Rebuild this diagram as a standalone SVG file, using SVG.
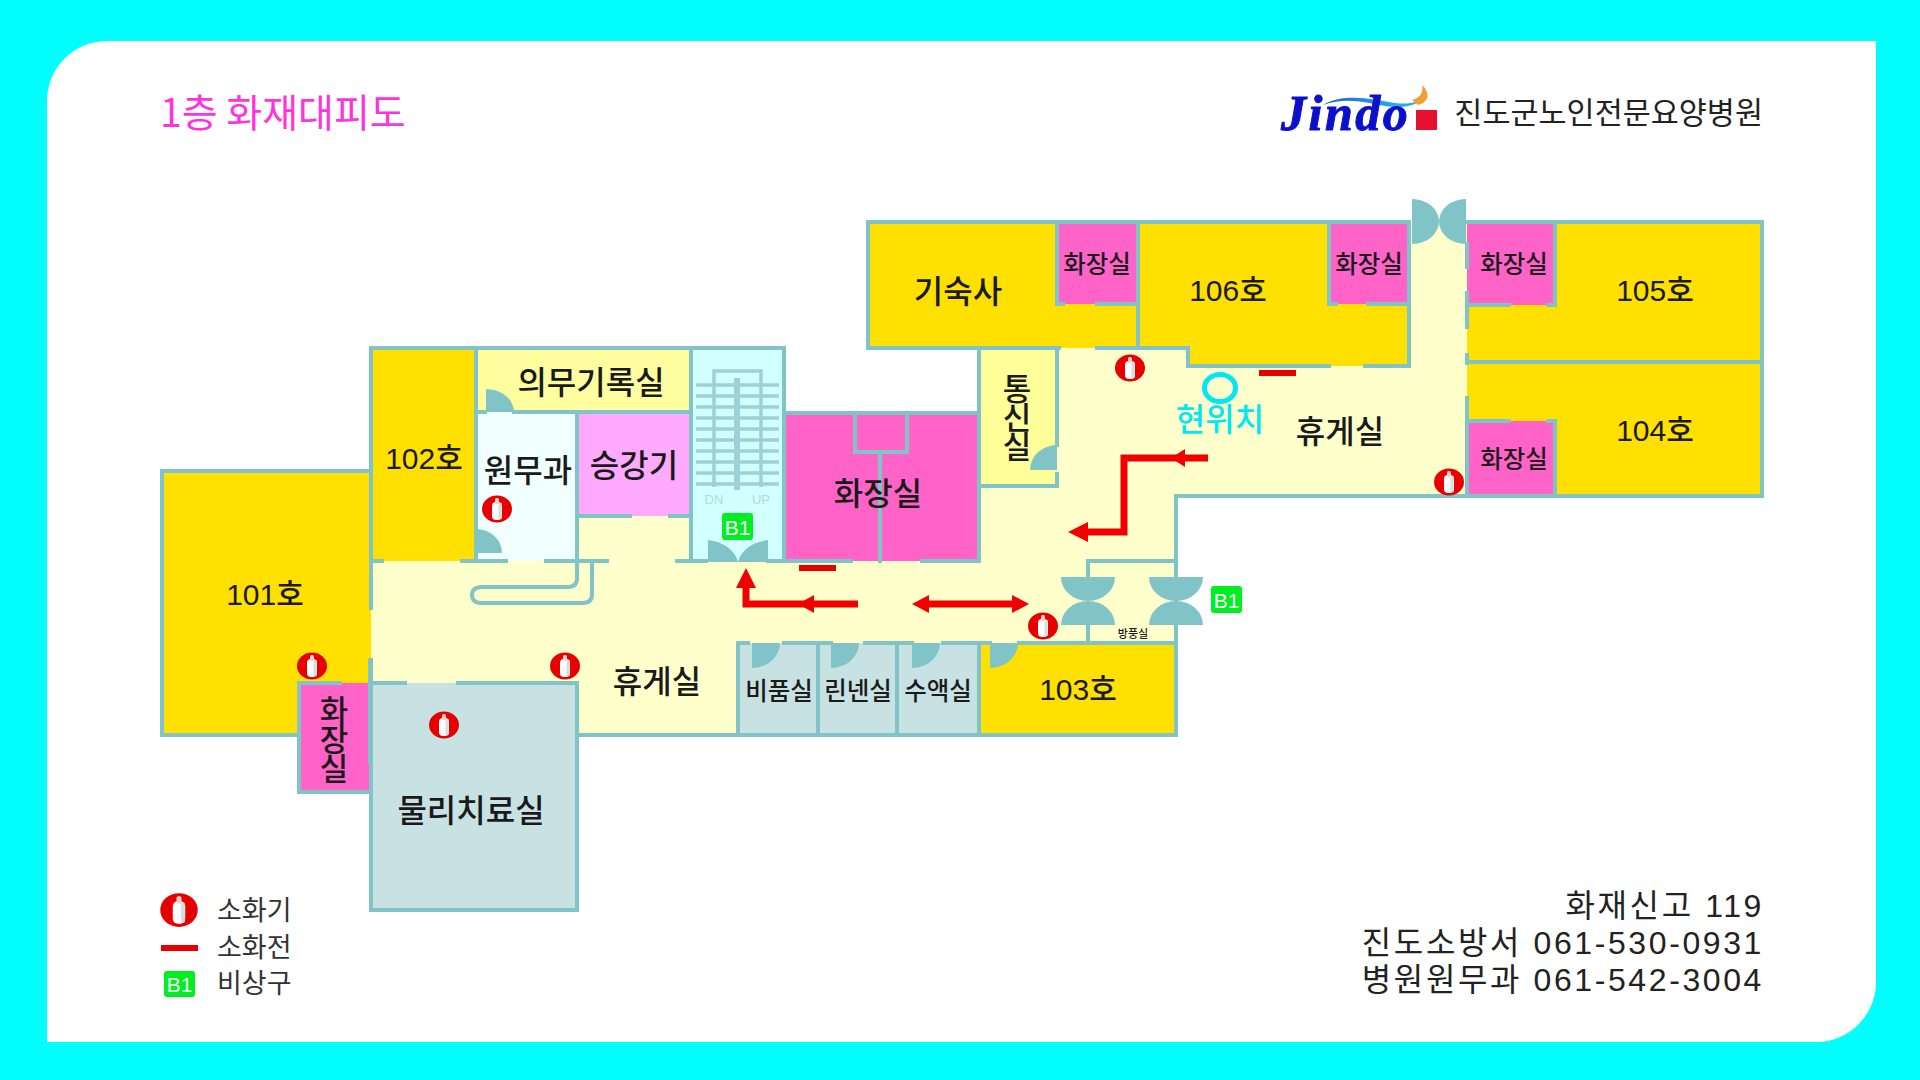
<svg xmlns="http://www.w3.org/2000/svg" width="1920" height="1080" viewBox="0 0 1920 1080">
<style>
text{font-family:"Noto Sans CJK KR","Noto Sans",sans-serif;fill:#1a1a1a;dominant-baseline:central;text-anchor:middle;font-weight:500}
.r{font-size:32px}.n{font-size:30px;font-family:"Liberation Sans","Noto Sans CJK KR",sans-serif}
.s{font-size:24.5px}.m{font-size:24.5px}
.v{font-size:31px;writing-mode:vertical-rl;text-orientation:upright;letter-spacing:-2px}
.i{font-size:32px;letter-spacing:2.6px;text-anchor:end;font-weight:400;fill:#222;font-family:"Liberation Sans","Noto Sans CJK KR",sans-serif}
.l{font-size:27px;text-anchor:start;font-weight:400;fill:#333}
.w{fill:none;stroke:#80c4c8;stroke-width:4;stroke-linecap:square}
.d{fill:#80c4c8}
.yel{fill:#ffe000}.pnk{fill:#ff63c8}.cor{fill:#ffffcc}.gry{fill:#c8e2e4}
.b{fill:#00ee22}.bt{fill:#fff;font-family:"Liberation Sans",sans-serif;font-size:21px;font-weight:400}
.a{fill:none;stroke:#f00000;stroke-width:7}.ah{fill:#f00000}
.h{fill:#e80000}
</style>
<defs>
<g id="ext"><ellipse rx="15" ry="13.5" fill="#e60000"/><rect x="-5" y="-7" width="10" height="18" rx="4" fill="#fff"/><rect x="-2" y="-11" width="4" height="6" rx="1.5" fill="#f3cccc"/><rect x="1.5" y="-6" width="3" height="16" fill="#dcdcdc"/></g>
<g id="ddoor"><path class="d" d="M-27 -24 H27 A27 24 0 0 1 0 0 A27 24 0 0 1 -27 -24Z"/><path class="d" d="M-27 24 H27 A27 24 0 0 0 0 0 A27 24 0 0 0 -27 24Z"/></g>
<g id="qdoor"><path class="d" d="M0 0 H28 A28 25 0 0 1 0 25Z"/></g>
<linearGradient id="sw" x1="0" x2="1" y1="0" y2="0"><stop offset="0" stop-color="#1c5fd8"/><stop offset="0.7" stop-color="#28a8f0"/></linearGradient>
</defs>
<rect width="1920" height="1080" fill="#00ffff"/>
<path d="M107 41 H1876 V982 A60 60 0 0 1 1816 1042 H47 V101 A60 60 0 0 1 107 41Z" fill="#fff"/>

<g id="title"><text x="160" y="109.5" style="font-size:39px;text-anchor:start;fill:#ff33dd;font-weight:400">1층 화재대피도</text></g>
<g id="logo">
<path d="M1323 105 C1345 92 1375 100 1395 103 C1410 105 1420 102 1424 96 C1420 106 1400 109 1385 106 C1365 102 1345 97 1323 105Z" fill="url(#sw)"/>
<path d="M1412 100 C1420 98 1424 92 1422 85 C1430 92 1430 102 1418 105Z" fill="#f0a030"/>
<text x="1281" y="130" style="font-family:'Liberation Serif',serif;font-style:italic;font-weight:700;font-size:50px;letter-spacing:2.5px;fill:#0a10cc;stroke:#0a10cc;stroke-width:1;text-anchor:start;dominant-baseline:alphabetic">Jindo</text>
<rect x="1416" y="110" width="21" height="20" fill="#e81030"/>
<text x="1763" y="110.5" style="font-size:30.5px;text-anchor:end;font-weight:400;fill:#222">진도군노인전문요양병원</text>
</g>

<g id="floor-fills">
<rect class="cor" x="371" y="561" width="805" height="82"/>
<rect class="cor" x="371" y="640" width="367" height="43"/>
<rect class="cor" x="577" y="640" width="161" height="95"/>
<rect class="cor" x="577" y="516" width="114" height="46"/>
<rect class="cor" x="979" y="486" width="197" height="76"/>
<rect class="cor" x="1057" y="348" width="410" height="148"/>
<rect class="cor" x="1409" y="222" width="58" height="140"/>
<rect class="yel" x="162" y="471" width="209" height="264"/>
<rect class="yel" x="371" y="348" width="105" height="213"/>
<rect fill="#ffffa0" x="476" y="348" width="215" height="64"/>
<rect fill="#f2ffff" x="476" y="412" width="101" height="149"/>
<rect fill="#ffaaff" x="577" y="412" width="114" height="104"/>
<rect fill="#d2ffff" x="691" y="348" width="93" height="213"/>
<rect class="pnk" x="784" y="413" width="195" height="148"/>
<rect fill="#ffff99" x="979" y="348" width="78" height="138"/>
<rect class="yel" x="868" y="222" width="270" height="126"/>
<rect class="yel" x="1138" y="222" width="271" height="126"/>
<rect class="yel" x="1188" y="340" width="221" height="26"/>
<rect class="pnk" x="1057" y="222" width="81" height="82"/>
<rect class="pnk" x="1329" y="222" width="80" height="82"/>
<rect class="yel" x="1467" y="222" width="295" height="274"/>
<rect class="pnk" x="1467" y="222" width="88" height="83"/>
<rect class="pnk" x="1467" y="421" width="88" height="75"/>
<rect class="pnk" x="299" y="683" width="72" height="109"/>
<rect class="gry" x="371" y="683" width="206" height="227"/>
<rect class="gry" x="738" y="643" width="241" height="92"/>
<rect class="yel" x="979" y="643" width="197" height="92"/>
</g>

<g id="walls">
<path class="w" d="M162 735 V471 H371 M162 735 H299 M299 683 V792 H371 M299 683 H340 M371 683 H405 M458 683 H577 V910 H371 V683"/>
<path class="w" d="M371 660 V683 M371 608 V348 H784 V561 M370 661 V762 M476 348 V561 M476 412 H485 M514 412 H691 M691 348 V561 M577 412 V561"/>
<path class="w" d="M577 516 H630 M670 516 H691"/>
<path class="w" d="M371 561 H382 M462 561 H506 M546 561 H607 M677 561 H706 M768 561 H851 M922 561 H979 M371 561 V608"/>
<path class="w" d="M577 561 V578 Q577 587 568 587 H482 Q472 587 472 595 Q472 603 482 603 H583 Q592 603 592 594 V561"/>
<path class="w" d="M784 413 H979 M880 452 V561 M855 413 V452 H907 V413 M979 348 V561 M979 486 H1057 M1057 348 V445 M1057 474 V486"/>
<path class="w" d="M868 348 V222 H1409 V366 M868 348 H1059 M1097 348 H1188 V366 H1329 M1365 366 H1409 M1138 222 V348 M1057 222 V304 H1063 M1097 304 H1138 M1329 222 V304 H1336 M1368 304 H1409"/>
<path class="w" d="M1467 222 H1762 V496 H1176 V643 M1467 362 H1762 M1555 222 V305 H1548 M1509 305 H1467 M1467 421 H1509 M1548 421 H1555 V496"/>
<path class="w" d="M1467 244 V267 M1467 293 V327 M1467 355 V363 M1467 398 V496"/>
<path class="w" d="M1088 578 V561 H1176 M1088 626 V643"/>
<path class="w" d="M738 735 H1176 V643 M738 643 V735 M818 643 V735 M897 643 V735 M979 643 V735"/>
<path class="w" d="M738 643 H748 M784 643 H831 M865 643 H912 M943 643 H990 M1019 643 H1176 M577 735 H738"/>
</g>

<g id="doors">
<path class="d" d="M486 412 V389 A28 23 0 0 1 514 412Z"/>
<path class="d" d="M476 553 V529 A26 24 0 0 1 502 553Z"/>
<path class="d" d="M1057 470 V445 A27 25 0 0 0 1030 470Z"/>
<use href="#qdoor" x="752" y="643"/><use href="#qdoor" x="831" y="643"/><use href="#qdoor" x="912" y="643"/><use href="#qdoor" x="990" y="643"/>
<path class="d" d="M1412 199 A27 22.5 0 0 1 1412 244Z"/>
<path class="d" d="M1466 199 A27 22.5 0 0 0 1466 244Z"/>
<use href="#ddoor" x="1088" y="601"/><use href="#ddoor" x="1176" y="601"/>
<path class="d" d="M708 562 V540 C722 542 734 548 738 562Z"/>
<path class="d" d="M768 562 V540 C754 542 742 548 738 562Z"/>
</g>

<g id="stairs">
<path d="M714 487 V371 H761 V487 M696 385 H779 M696 396 H779 M696 407 H779 M696 418 H779 M696 429 H779 M696 440 H779 M696 451 H779 M696 462 H779 M696 473 H779 M696 484 H779" fill="none" stroke="#9ed0d6" stroke-width="3.5"/>
<path d="M737 378 V490" stroke="#9ed0d6" stroke-width="6" fill="none"/>
<text x="714" y="499" style="font-family:'Liberation Sans',sans-serif;font-size:13px;fill:#b4d8de;font-weight:400">DN</text>
<text x="761" y="499" style="font-family:'Liberation Sans',sans-serif;font-size:13px;fill:#b4d8de;font-weight:400">UP</text>
</g>

<g id="labels">
<text class="n" x="265" y="594">101호</text>
<text class="n" x="424" y="458">102호</text>
<text class="n" x="1078" y="689">103호</text>
<text class="n" x="1655" y="430">104호</text>
<text class="n" x="1655" y="290">105호</text>
<text class="n" x="1228" y="290">106호</text>
<text class="r" x="591" y="379.5">의무기록실</text>
<text class="r" x="528" y="467.5">원무과</text>
<text class="r" x="634" y="462.5">승강기</text>
<text class="r" x="878" y="490.5">화장실</text>
<text class="r" x="958" y="288.5">기숙사</text>
<text class="r" x="1340" y="428.5">휴게실</text>
<text class="r" x="657" y="678.5">휴게실</text>
<text class="r" x="471" y="807.5">물리치료실</text>
<text class="s" x="1097" y="262">화장실</text>
<text class="s" x="1369" y="262">화장실</text>
<text class="s" x="1514" y="262">화장실</text>
<text class="s" x="1514" y="457">화장실</text>
<text class="m" x="779" y="689">비품실</text>
<text class="m" x="858" y="689">린넨실</text>
<text class="m" x="938" y="689">수액실</text>
<text class="v" x="1017" y="416">통신실</text>
<text class="v" x="334" y="738">화장실</text>
<text x="1133" y="633" style="font-size:11px">방풍실</text>
</g>

<g id="current-position">
<ellipse cx="1220" cy="388" rx="15.5" ry="13.5" fill="none" stroke="#00e8f0" stroke-width="5"/>
<text x="1220" y="417" style="font-size:32px;fill:#00e8f0">현위치</text>
</g>

<g id="extinguishers">
<use href="#ext" x="497" y="509"/><use href="#ext" x="312" y="666"/><use href="#ext" x="565" y="666"/><use href="#ext" x="444" y="725"/>
<use href="#ext" x="1130" y="368"/><use href="#ext" x="1449" y="482"/><use href="#ext" x="1043" y="626"/>
</g>
<g id="hydrants">
<rect class="h" x="1259" y="370" width="37" height="6"/>
<rect class="h" x="799" y="565" width="37" height="6"/>
</g>

<g id="exits">
<rect class="b" x="722" y="513" width="31" height="27" rx="3"/><text class="bt" x="737.5" y="527">B1</text>
<rect class="b" x="1211" y="586" width="31" height="27" rx="3"/><text class="bt" x="1226.5" y="600">B1</text>
</g>

<g id="connectors">
<path class="a" d="M1208 458 H1124 V532 H1086"/>
<path class="ah" d="M1171 458 L1185 449 V467Z"/>
<path class="ah" d="M1068 532 L1088 522 V542Z"/>
<path class="a" d="M858 604 H746 V586"/>
<path class="ah" d="M798 604 L814 595 V613Z"/>
<path class="ah" d="M746 568 L756 588 H736Z"/>
<path class="a" d="M925 604 H1016"/>
<path class="ah" d="M912 604 L929 595 V613Z"/>
<path class="ah" d="M1029 604 L1012 595 V613Z"/>
</g>

<g id="legend">
<use href="#ext" transform="translate(179 910) scale(1.25)"/>
<rect class="h" x="161" y="945" width="37" height="6"/>
<rect class="b" x="164" y="971" width="31" height="26" rx="3"/><text class="bt" x="179.5" y="984">B1</text>
<text class="l" x="217" y="908.5">소화기</text>
<text class="l" x="217" y="945.5">소화전</text>
<text class="l" x="217" y="981.5">비상구</text>
</g>

<g id="contact">
<text class="i" x="1764" y="906">화재신고 119</text>
<text class="i" x="1764" y="943">진도소방서 061-530-0931</text>
<text class="i" x="1764" y="980">병원원무과 061-542-3004</text>
</g>
</svg>
